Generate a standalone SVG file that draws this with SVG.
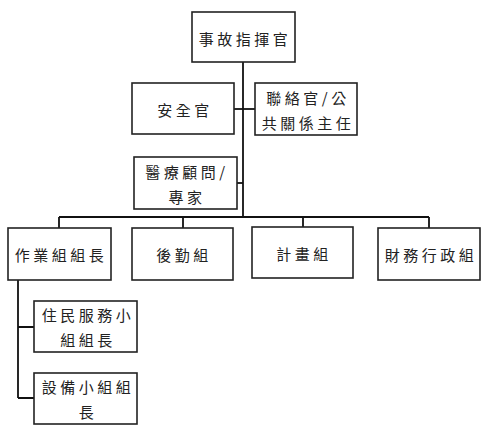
<svg xmlns="http://www.w3.org/2000/svg" width="486" height="438" viewBox="0 0 486 438">
<style>
.box{fill:#fff;stroke:#222;stroke-width:1.6}
.ln{fill:none;stroke:#111;stroke-width:1.8}
text{font-family:"Noto Sans CJK TC","Noto Sans CJK SC",sans-serif;font-size:15px;fill:#222;text-anchor:middle;dominant-baseline:central;letter-spacing:3.5px}
</style>
<rect width="486" height="438" fill="#fff"/>
<g id="connectors">
<path class="ln" d="M243 62V217"/>
<path class="ln" d="M234 109H255"/>
<path class="ln" d="M237 183H243"/>
<path class="ln" d="M59 217H429"/>
<path class="ln" d="M59 217V228M183 217V228M303 217V227M429 217V228"/>
<path class="ln" d="M18 280V398M18 327H34M18 398H34"/>
</g>
<g id="n1"><rect class="box" x="192" y="12" width="103" height="50"/><text x="245" y="38">事故指揮官</text></g>
<g id="n2"><rect class="box" x="132" y="83" width="102" height="51"/><text x="185" y="109">安全官</text></g>
<g id="n3"><rect class="box" x="255" y="83" width="102" height="52"/><text x="308" y="97">聯絡官/公</text><text x="308" y="122">共關係主任</text></g>
<g id="n4"><rect class="box" x="134" y="157" width="103" height="52"/><text x="187" y="171">醫療顧問/</text><text x="187" y="196">專家</text></g>
<g id="n5"><rect class="box" x="8" y="228" width="103" height="52"/><text x="61" y="254">作業組組長</text></g>
<g id="n6"><rect class="box" x="132" y="228" width="101" height="52"/><text x="184" y="254">後勤組</text></g>
<g id="n7"><rect class="box" x="252" y="227" width="101" height="51"/><text x="304" y="253">計畫組</text></g>
<g id="n8"><rect class="box" x="378" y="228" width="102" height="52"/><text x="431" y="254">財務行政組</text></g>
<g id="n9"><rect class="box" x="34" y="301" width="103" height="51"/><text x="88" y="314">住民服務小</text><text x="88" y="339">組組長</text></g>
<g id="n10"><rect class="box" x="34" y="373" width="103" height="51"/><text x="88" y="386">設備小組組</text><text x="88" y="411">長</text></g>
</svg>
